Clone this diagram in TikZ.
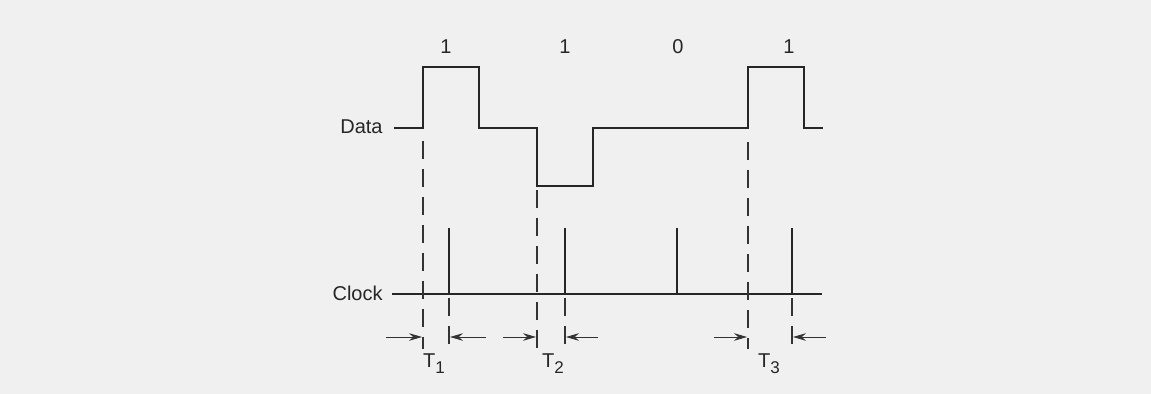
\documentclass[tikz,border=0pt]{standalone}
\usepackage{fontspec}
\setmainfont{Liberation Sans}
\usetikzlibrary{arrows.meta}

\tikzset{
  wave/.style={line width=1.1pt, draw=black!85},
  guide/.style={line width=0.6pt, draw=black!80, dash pattern=on 9pt off 5pt},
  gap/.style={line width=0.45pt, draw=black!80, -{Stealth[length=6.5pt,width=3.8pt]}},
  lbl/.style={font=\fontsize{10}{12}\selectfont, text=black!85, inner sep=0pt}
}
\newcommand{\tsub}[1]{T\raisebox{-0.55ex}{\fontsize{8.5}{10}\selectfont #1}}

\begin{document}
\begin{tikzpicture}[x=0.5pt, y=-0.5pt]
  \fill[black!6] (0,0) rectangle (1151,394);
  \useasboundingbox (0,0) rectangle (1151,394);

  % Data waveform
  \node[lbl, anchor=east] (data) at (383,127) {Data};
  \draw[wave] (394,128) -- (423,128) -- (423,67) -- (479,67) -- (479,128)
    -- (537,128) -- (537,186) -- (593,186) -- (593,128) -- (748,128)
    -- (748,67) -- (804,67) -- (804,128) -- (823,128);

  % Bit values
  \node[lbl] (b1) at (446,47) {1};
  \node[lbl] (b2) at (565,47) {1};
  \node[lbl] (b3) at (678,47) {0};
  \node[lbl] (b4) at (789,47) {1};

  % Clock line and pulses
  \node[lbl, anchor=east] (clock) at (383,293) {Clock};
  \draw[wave, line width=1.3pt] (392,294) -- (822,294);
  \foreach \x in {449,565,677,792}
    \draw[wave] (\x,294) -- (\x,228);

  % Data edges (dashed)
  \draw[guide] (423,141) -- (423,349);
  \draw[guide] (537,190) -- (537,349);
  \draw[guide] (748,142) -- (748,349);
  \foreach \x in {449,565,792}
    \draw[guide] (\x,298) -- (\x,349);

  % Delays
  \coordinate (a1) at (386,337);
  \coordinate (a2) at (486,337);
  \coordinate (a3) at (503,337);
  \coordinate (a4) at (598,337);
  \coordinate (a5) at (714,337);
  \coordinate (a6) at (826,337);
  \draw[gap] (a1) -- (422,337);
  \draw[gap] (a2) -- (450,337);
  \draw[gap] (a3) -- (536,337);
  \draw[gap] (a4) -- (566,337);
  \draw[gap] (a5) -- (747,337);
  \draw[gap] (a6) -- (793,337);

  \node[lbl] (t1) at (434,364) {\tsub{1}};
  \node[lbl] (t2) at (553,364) {\tsub{2}};
  \node[lbl] (t3) at (769,364) {\tsub{3}};
\end{tikzpicture}
\end{document}
